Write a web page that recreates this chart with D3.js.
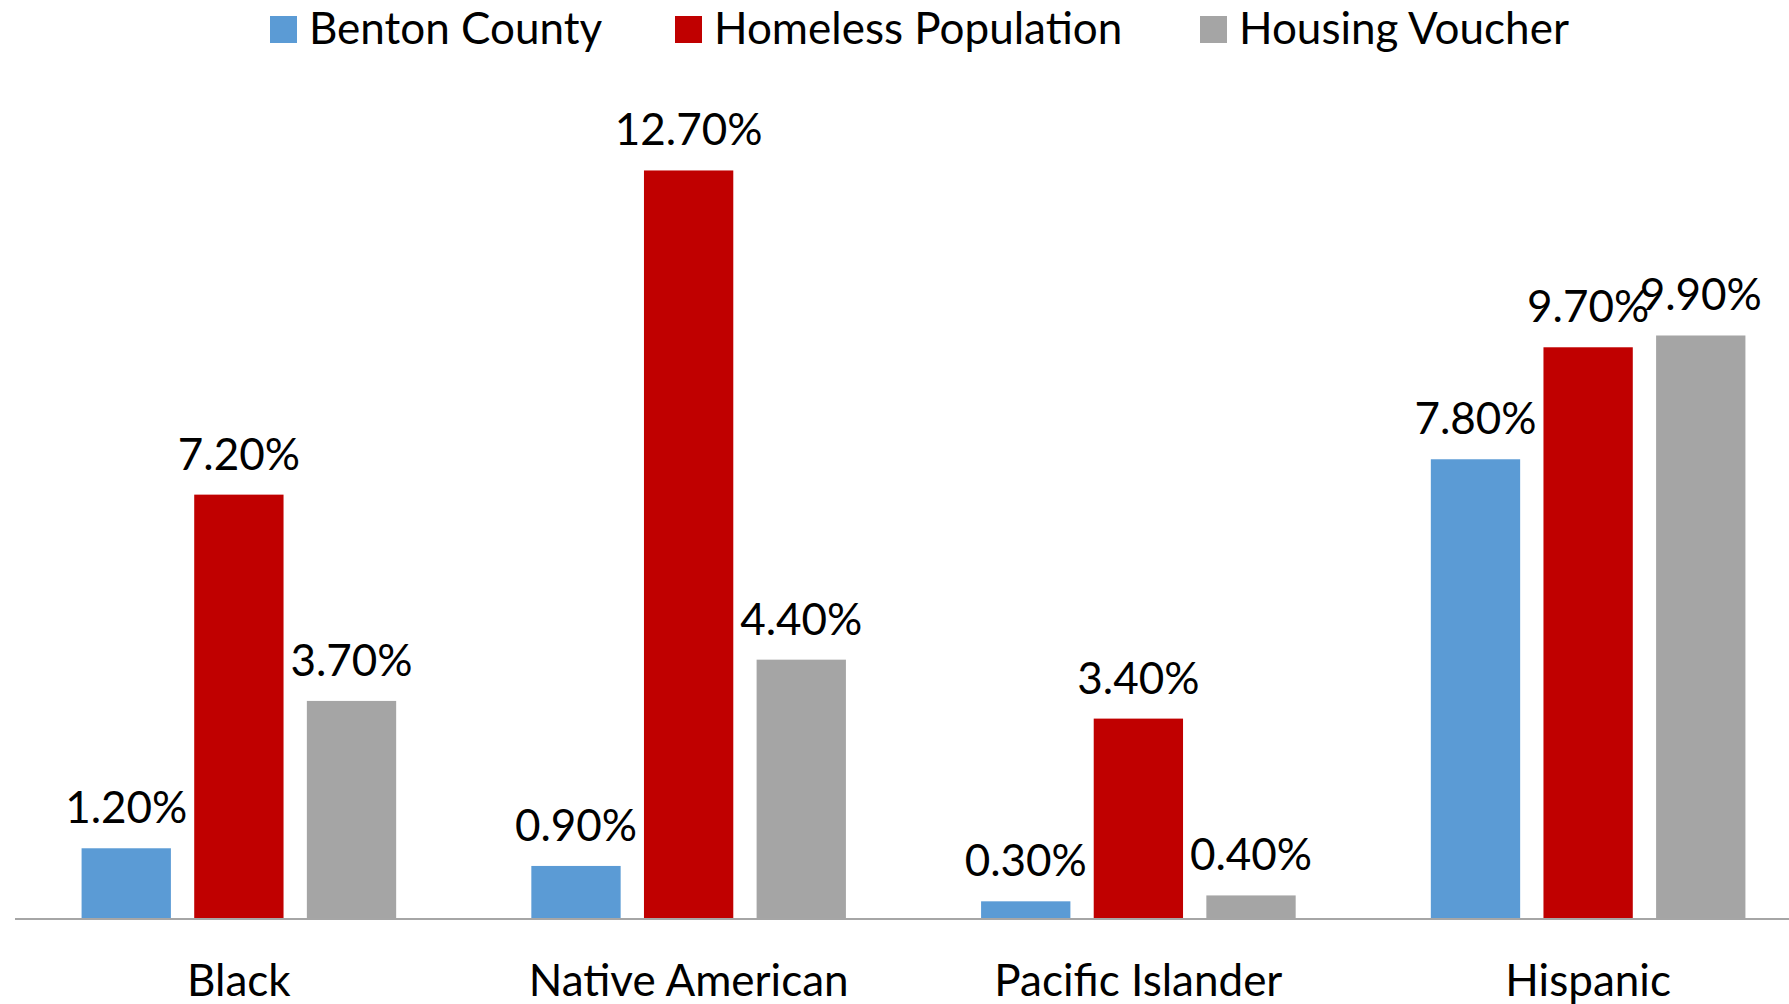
<!DOCTYPE html>
<html>
<head>
<meta charset="utf-8">
<script src="https://cdn.jsdelivr.net/npm/d3@7"></script>
<style>
  html, body { margin: 0; padding: 0; background: #fff; }
  svg { display: block; }
  text { font-family: Lato, "Open Sans", sans-serif; fill: #000; }
</style>
</head>
<body>
<svg id="chart" width="1789" height="1004"></svg>
<script>
// Share of each group: county population, homeless population, voucher holders
const categories = ["Black", "Native American", "Pacific Islander", "Hispanic"];
const seriesNames = ["Benton County", "Homeless Population", "Housing Voucher"];
const bentonCounty = [1.2, 0.9, 0.3, 7.8];
const homelessPopulation = [7.2, 12.7, 3.4, 9.7];
const housingVoucher = [3.7, 4.4, 0.4, 9.9];
const seriesColors = ["#5B9BD5", "#C00000", "#A5A5A5"];

const seriesValues = [bentonCounty, homelessPopulation, housingVoucher];
const rows = categories.map((c, i) => ({
  category: c,
  values: seriesNames.map((s, j) => ({ series: s, value: seriesValues[j][i], color: seriesColors[j] }))
}));

const W = 1789, H = 1004;
const FONT = 44;
const svg = d3.select("#chart");

const baseline = 919;
const x0 = d3.scaleBand().domain(categories).range([14, 1813]).padding(0);
const x1 = d3.scaleBand().domain(seriesNames).range([0, x0.bandwidth()])
  .paddingInner(0.207).paddingOuter(0.6);
const y = d3.scaleLinear().domain([0, 14]).range([baseline, baseline - 14 * 58.94]);

// Bars
const groups = svg.append("g").selectAll("g").data(rows).join("g")
  .attr("transform", d => `translate(${x0(d.category)},0)`);

groups.selectAll("rect").data(d => d.values).join("rect")
  .attr("x", d => x1(d.series))
  .attr("width", x1.bandwidth())
  .attr("y", d => y(d.value))
  .attr("height", d => y(0) - y(d.value))
  .attr("fill", d => d.color);

// Value labels
groups.selectAll("text").data(d => d.values).join("text")
  .attr("x", d => x1(d.series) + x1.bandwidth() / 2)
  .attr("y", d => y(d.value) - 25)
  .attr("text-anchor", "middle")
  .attr("font-size", FONT)
  .text(d => d3.format(".2f")(d.value) + "%");

// Category axis
const xAxis = svg.append("g").attr("transform", `translate(0,${baseline})`)
  .call(d3.axisBottom(x0).tickSize(0).tickPadding(0));
xAxis.select(".domain").remove();
xAxis.append("line")
  .attr("x1", 15).attr("x2", W).attr("y1", 0).attr("y2", 0)
  .attr("stroke", "#A6A6A6").attr("stroke-width", 2);
xAxis.selectAll(".tick text")
  .attr("y", 77).attr("dy", 0)
  .attr("font-size", FONT)
  .attr("font-family", "Lato, 'Open Sans', sans-serif")
  .attr("fill", "#000");

// Legend
const legendX = [270, 675, 1200];
const legend = svg.append("g").selectAll("g").data(seriesNames).join("g")
  .attr("transform", (d, i) => `translate(${legendX[i]},16)`);
legend.append("rect").attr("width", 27).attr("height", 27)
  .attr("fill", (d, i) => seriesColors[i]);
legend.append("text").attr("x", 39).attr("y", 28)
  .attr("font-size", FONT).text(d => d);
</script>
</body>
</html>
